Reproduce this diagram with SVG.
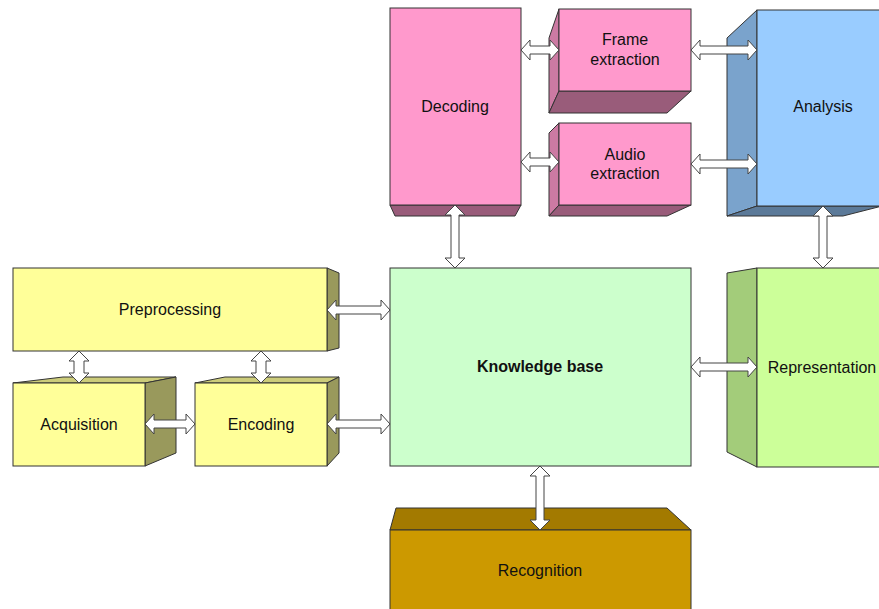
<svg xmlns="http://www.w3.org/2000/svg" width="879" height="609" viewBox="0 0 879 609">
<style>
  .s{stroke:#333333;stroke-width:1;stroke-linejoin:miter}
  .t{font-family:"Liberation Sans",Arial,sans-serif;font-size:16px;fill:#111111;text-anchor:middle}
  .b{font-weight:bold}
  .arr path{fill:#ffffff;stroke:#444444;stroke-width:1}
  .pink{fill:#FF99CC}.pinkS{fill:#CC7AA3}.pinkD{fill:#995C7A}
  .blue{fill:#99CCFF}.blueS{fill:#7AA3CC}.blueD{fill:#5C7A99}
  .lime{fill:#CCFF99}.limeS{fill:#A3CC7A}
  .yel{fill:#FFFF99}.yelT{fill:#CCCC7A}.yelS{fill:#99995C}
  .gold{fill:#CC9900}.goldT{fill:#A37A00}
  .kb{fill:#CCFFCC}
</style>
<rect width="879" height="609" fill="#ffffff"/>
<g id="decoding">
  <polygon class="s pinkD" points="390,205 521,205 515,216 395,216"/>
  <rect class="s pink" x="390" y="8" width="131" height="197"/>
  <text class="t" x="455" y="112">Decoding</text>
</g>
<g id="frame-extraction">
  <polygon class="s pinkS" points="559,9 549,38 549,113 559,91"/>
  <polygon class="s pinkD" points="559,91 691,91 667,113 549,113"/>
  <rect class="s pink" x="559" y="9" width="132" height="82"/>
  <text class="t" x="625" y="45">Frame</text>
  <text class="t" x="625" y="65">extraction</text>
</g>
<g id="audio-extraction">
  <polygon class="s pinkS" points="559,123 549,133 549,216 559,205"/>
  <polygon class="s pinkD" points="559,205 691,205 667,216 549,216"/>
  <rect class="s pink" x="559" y="123" width="132" height="82"/>
  <text class="t" x="625" y="160">Audio</text>
  <text class="t" x="625" y="179">extraction</text>
</g>
<g id="analysis">
  <polygon class="s blueS" points="757,10 727,38 727,216 757,206"/>
  <polygon class="s blueD" points="757,206 890,206 890,204 843,216 727,216"/>
  <rect class="s blue" x="757" y="10" width="140" height="196"/>
  <text class="t" x="823" y="112">Analysis</text>
</g>
<g id="representation">
  <polygon class="s limeS" points="757,268 727,273 727,452 757,467"/>
  <rect class="s lime" x="757" y="268" width="140" height="199"/>
  <text class="t" x="822" y="373">Representation</text>
</g>
<g id="knowledge-base">
  <rect class="s kb" x="390" y="268" width="301" height="198"/>
  <text class="t b" x="540" y="372">Knowledge base</text>
</g>
<g id="preprocessing">
  <polygon class="s yelS" points="327,268 339,273 339,348 327,351"/>
  <rect class="s yel" x="13" y="268" width="314" height="83"/>
  <text class="t" x="170" y="315">Preprocessing</text>
</g>
<g id="acquisition">
  <polygon class="s yelT" points="13,383 145,383 176,377 63,377"/>
  <polygon class="s yelS" points="145,383 176,377 176,453 145,466"/>
  <rect class="s yel" x="13" y="383" width="132" height="83"/>
  <text class="t" x="79" y="430">Acquisition</text>
</g>
<g id="encoding">
  <polygon class="s yelT" points="195,383 327,383 339,377 225,377"/>
  <polygon class="s yelS" points="327,383 339,377 339,453 327,466"/>
  <rect class="s yel" x="195" y="383" width="132" height="83"/>
  <text class="t" x="261" y="430">Encoding</text>
</g>
<g id="recognition">
  <polygon class="s goldT" points="390,530 396,508 667,508 691,530"/>
  <rect class="s gold" x="390" y="530" width="301" height="90"/>
  <text class="t" x="540" y="576">Recognition</text>
</g>
<g id="connectors" class="arr">
  <path d="M521,50 L530,40 L530,46 L550,46 L550,40 L559,50 L550,60 L550,54 L530,54 L530,60 Z"/>
  <path d="M521,162 L530,152 L530,158 L550,158 L550,152 L559,162 L550,172 L550,166 L530,166 L530,172 Z"/>
  <path d="M691,50 L700,40 L700,46 L748,46 L748,40 L757,50 L748,60 L748,54 L700,54 L700,60 Z"/>
  <path d="M691,164 L700,154 L700,160 L748,160 L748,154 L757,164 L748,174 L748,168 L700,168 L700,174 Z"/>
  <path d="M455,205 L465,215 L459,215 L459,258 L465,258 L455,268 L445,258 L451,258 L451,215 L445,215 Z"/>
  <path d="M823,206 L833,216 L827,216 L827,258 L833,258 L823,268 L813,258 L819,258 L819,216 L813,216 Z"/>
  <path d="M327,310 L336,300 L336,306 L381,306 L381,300 L390,310 L381,320 L381,314 L336,314 L336,320 Z"/>
  <path d="M327,424 L336,414 L336,420 L381,420 L381,414 L390,424 L381,434 L381,428 L336,428 L336,434 Z"/>
  <path d="M691,367 L700,357 L700,363 L748,363 L748,357 L757,367 L748,377 L748,371 L700,371 L700,377 Z"/>
  <path d="M79,351 L89,361 L84,361 L84,373 L89,373 L79,383 L69,373 L74,373 L74,361 L69,361 Z"/>
  <path d="M261,351 L271,361 L266,361 L266,373 L271,373 L261,383 L251,373 L256,373 L256,361 L251,361 Z"/>
  <path d="M145,424 L154,414 L154,420 L186,420 L186,414 L195,424 L186,434 L186,428 L154,428 L154,434 Z"/>
  <path d="M540,466 L550,476 L544,476 L544,520 L550,520 L540,530 L530,520 L536,520 L536,476 L530,476 Z"/>
</g>
</svg>
